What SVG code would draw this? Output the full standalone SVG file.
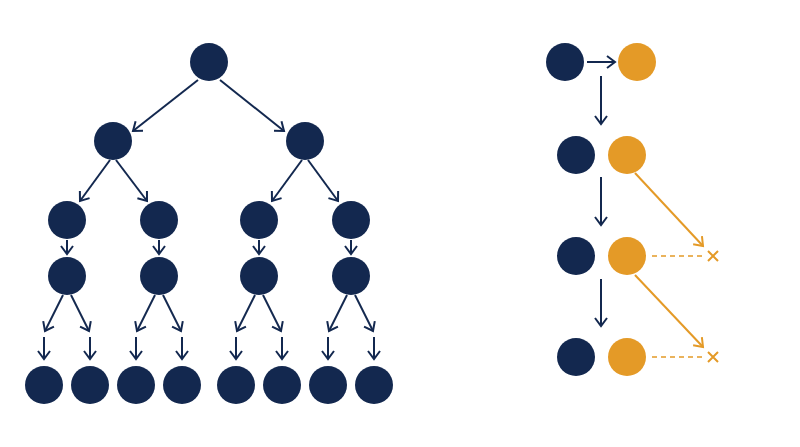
<svg xmlns="http://www.w3.org/2000/svg" width="800" height="447" viewBox="0 0 800 447">
<defs>
<style>
.n{fill:#13284f}
.o{fill:#e49a27}
.a{stroke:#13284f;stroke-width:2;fill:none;marker-end:url(#ah)}
.ao{stroke:#e49a27;stroke-width:2;fill:none;marker-end:url(#aho)}
.d{stroke:#e49a27;stroke-width:1.6;fill:none;stroke-dasharray:5 4}
.x{stroke:#e49a27;stroke-width:2;fill:none}
</style>
<marker id="ah" markerUnits="userSpaceOnUse" viewBox="-10 -6 12 12" refX="0" refY="0" markerWidth="12" markerHeight="12" orient="auto" overflow="visible">
<path d="M-8,-6 L0,0 L-8,6" stroke="#13284f" stroke-width="2" fill="none"/>
</marker>
<marker id="aho" markerUnits="userSpaceOnUse" viewBox="-10 -6 12 12" refX="0" refY="0" markerWidth="12" markerHeight="12" orient="auto" overflow="visible">
<path d="M-8,-6 L0,0 L-8,6" stroke="#e49a27" stroke-width="2" fill="none"/>
</marker>
</defs>
<rect width="800" height="447" fill="#ffffff"/>
<g id="connectors">
<line class="a" x1="198" y1="80" x2="133" y2="131"/>
<line class="a" x1="220" y1="80" x2="284" y2="131"/>
<line class="a" x1="110" y1="160" x2="80" y2="201"/>
<line class="a" x1="116" y1="160" x2="147" y2="201"/>
<line class="a" x1="302" y1="160" x2="272" y2="201"/>
<line class="a" x1="308" y1="160" x2="338" y2="201"/>
<line class="a" x1="67" y1="240" x2="67" y2="254"/>
<line class="a" x1="159" y1="240" x2="159" y2="254"/>
<line class="a" x1="259" y1="240" x2="259" y2="254"/>
<line class="a" x1="351" y1="240" x2="351" y2="254"/>
<line class="a" x1="63" y1="295" x2="45" y2="331"/>
<line class="a" x1="71" y1="295" x2="89" y2="331"/>
<line class="a" x1="155" y1="295" x2="137" y2="331"/>
<line class="a" x1="163" y1="295" x2="181" y2="331"/>
<line class="a" x1="255" y1="295" x2="237" y2="331"/>
<line class="a" x1="263" y1="295" x2="281" y2="331"/>
<line class="a" x1="347" y1="295" x2="329" y2="331"/>
<line class="a" x1="355" y1="295" x2="373" y2="331"/>
<line class="a" x1="44" y1="337" x2="44" y2="359"/>
<line class="a" x1="90" y1="337" x2="90" y2="359"/>
<line class="a" x1="136" y1="337" x2="136" y2="359"/>
<line class="a" x1="182" y1="337" x2="182" y2="359"/>
<line class="a" x1="236" y1="337" x2="236" y2="359"/>
<line class="a" x1="282" y1="337" x2="282" y2="359"/>
<line class="a" x1="328" y1="337" x2="328" y2="359"/>
<line class="a" x1="374" y1="337" x2="374" y2="359"/>
<line class="a" x1="587" y1="62" x2="615" y2="62"/>
<line class="a" x1="601" y1="76" x2="601" y2="124"/>
<line class="a" x1="601" y1="177" x2="601" y2="225"/>
<line class="a" x1="601" y1="279" x2="601" y2="326"/>
<line class="ao" x1="635" y1="173" x2="703" y2="246"/>
<line class="ao" x1="635" y1="275" x2="703" y2="347"/>
<line class="d" x1="652" y1="256" x2="704" y2="256"/>
<line class="d" x1="652" y1="357" x2="704" y2="357"/>
<path class="x" d="M708,251 L718,261 M718,251 L708,261"/>
<path class="x" d="M708,352 L718,362 M718,352 L708,362"/>
</g>
<g id="t1"><circle class="n" cx="209" cy="62" r="19"/></g>
<g id="t2a"><circle class="n" cx="113" cy="141" r="19"/></g>
<g id="t2b"><circle class="n" cx="305" cy="141" r="19"/></g>
<g id="t3a"><circle class="n" cx="67" cy="220" r="19"/></g>
<g id="t3b"><circle class="n" cx="159" cy="220" r="19"/></g>
<g id="t3c"><circle class="n" cx="259" cy="220" r="19"/></g>
<g id="t3d"><circle class="n" cx="351" cy="220" r="19"/></g>
<g id="t4a"><circle class="n" cx="67" cy="276" r="19"/></g>
<g id="t4b"><circle class="n" cx="159" cy="276" r="19"/></g>
<g id="t4c"><circle class="n" cx="259" cy="276" r="19"/></g>
<g id="t4d"><circle class="n" cx="351" cy="276" r="19"/></g>
<g id="t5a"><circle class="n" cx="44" cy="385" r="19"/></g>
<g id="t5b"><circle class="n" cx="90" cy="385" r="19"/></g>
<g id="t5c"><circle class="n" cx="136" cy="385" r="19"/></g>
<g id="t5d"><circle class="n" cx="182" cy="385" r="19"/></g>
<g id="t5e"><circle class="n" cx="236" cy="385" r="19"/></g>
<g id="t5f"><circle class="n" cx="282" cy="385" r="19"/></g>
<g id="t5g"><circle class="n" cx="328" cy="385" r="19"/></g>
<g id="t5h"><circle class="n" cx="374" cy="385" r="19"/></g>
<g id="r1n"><circle class="n" cx="565" cy="62" r="19"/></g>
<g id="r1o"><circle class="o" cx="637" cy="62" r="19"/></g>
<g id="r2n"><circle class="n" cx="576" cy="155" r="19"/></g>
<g id="r2o"><circle class="o" cx="627" cy="155" r="19"/></g>
<g id="r3n"><circle class="n" cx="576" cy="256" r="19"/></g>
<g id="r3o"><circle class="o" cx="627" cy="256" r="19"/></g>
<g id="r4n"><circle class="n" cx="576" cy="357" r="19"/></g>
<g id="r4o"><circle class="o" cx="627" cy="357" r="19"/></g>
</svg>
